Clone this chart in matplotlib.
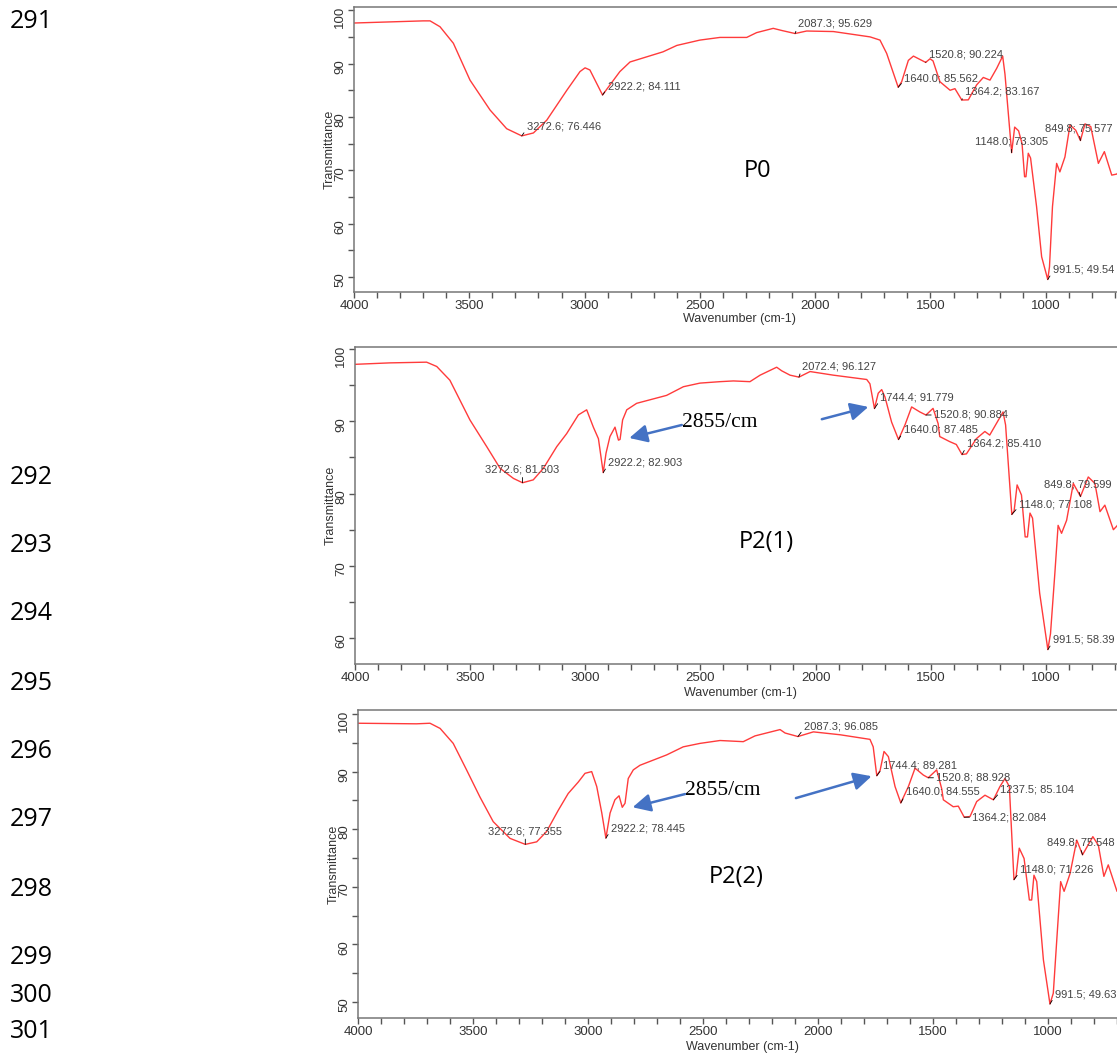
import numpy as np
import matplotlib
matplotlib.use('Agg')
import matplotlib.pyplot as plt
from matplotlib.ticker import MultipleLocator

plt.rcParams['font.family'] = ['Liberation Sans', 'DejaVu Sans']

W, H = 1117, 1055

# ---- spectra (wavenumber cm-1, transmittance %) ----
p0_wn = [4000, 3850, 3700, 3670, 3627, 3569, 3497, 3410, 3338, 3272.6, 3222, 3164, 3077, 3020,
         2998, 2977, 2922.2, 2890, 2847, 2803, 2660, 2600, 2500, 2413, 2297, 2254, 2182, 2145,
         2087.3, 2037, 1921, 1762, 1719, 1690, 1640.0, 1625, 1596, 1574, 1520.8, 1502, 1489,
         1459, 1415, 1394, 1364.2, 1336, 1300, 1271, 1242, 1213, 1187, 1177, 1148.0, 1135,
         1118, 1103, 1092, 1086, 1076, 1066, 1040, 1018, 991.5, 984, 971, 953, 939, 917, 895,
         870, 849.8, 830, 805, 772, 746, 714, 692, 660]
p0_t = [97.6, 97.8, 98.0, 98.0, 96.9, 93.8, 86.9, 81.3, 77.8, 76.45, 77.0, 79.4, 85.0, 88.5,
        89.2, 88.8, 84.11, 86.0, 88.5, 90.3, 92.2, 93.4, 94.4, 94.9, 94.9, 95.8, 96.6, 96.2,
        95.63, 96.1, 96.0, 95.0, 94.4, 91.9, 85.56, 86.6, 90.6, 91.4, 90.22, 90.9, 90.5,
        86.6, 85.0, 85.3, 83.17, 83.2, 86.0, 87.4, 86.9, 89.1, 91.4, 88.0, 73.31, 78.1,
        77.4, 75.0, 68.8, 68.8, 73.2, 72.3, 63.2, 53.8, 49.54, 51.9, 63.2, 71.3, 69.7, 72.5, 78.5,
        77.5, 75.58, 78.7, 78.2, 71.3, 73.5, 69.1, 69.3, 71.0]

p21_wn = [4000, 3850, 3689, 3645, 3588, 3501, 3428, 3370, 3312, 3272.6, 3226, 3182, 3124, 3081,
          3030, 2994, 2965, 2943, 2922.2, 2910, 2893, 2871, 2856, 2849, 2838, 2820, 2777, 2647,
          2574, 2502, 2415, 2357, 2285, 2241, 2169, 2147, 2111, 2072.4, 2024, 1923, 1778, 1764,
          1744.4, 1728, 1713, 1699, 1670, 1640.0, 1612, 1583, 1547, 1520.8, 1490, 1468, 1461,
          1418, 1389, 1364.2, 1345, 1302, 1265, 1244, 1215, 1186, 1175, 1148.0, 1138, 1125,
          1106, 1090, 1080, 1069, 1058, 1027, 991.5, 980, 961, 947, 932, 910, 881, 849.8, 816,
          787, 765, 744, 707, 692, 660]
p21_t = [97.9, 98.1, 98.2, 97.6, 95.7, 90.2, 86.5, 83.5, 82.1, 81.50, 81.9, 83.5, 86.5, 88.3,
         90.9, 91.6, 89.2, 87.6, 82.90, 85.6, 87.9, 89.2, 87.4, 87.5, 90.2, 91.6, 92.5, 93.6,
         94.8, 95.3, 95.5, 95.6, 95.5, 96.4, 97.5, 97.0, 96.4, 96.13, 96.9, 96.4, 95.8, 95.2,
         91.78, 93.9, 94.4, 93.4, 89.9, 87.49, 89.5, 92.0, 91.3, 90.88, 91.8, 89.7, 87.9,
         87.2, 86.8, 85.41, 85.5, 87.6, 88.6, 88.1, 89.7, 91.3, 89.5, 77.11, 77.6, 81.2,
         79.8, 74.0, 74.0, 77.3, 76.6, 66.2, 58.39, 60.6, 69.0, 75.6, 74.5, 76.3, 81.4, 79.60, 82.3,
         81.4, 77.5, 78.4, 75.0, 75.5, 77.0]

p22_wn = [4000, 3746, 3687, 3643, 3586, 3528, 3470, 3412, 3339, 3272.6, 3223, 3180, 3129, 3086,
          3042, 3013, 2984, 2962, 2940, 2922.2, 2904, 2883, 2865, 2851, 2839, 2825, 2803, 2774,
          2658, 2586, 2513, 2426, 2325, 2274, 2165, 2143, 2087.3, 2020, 1904, 1774, 1760,
          1744.4, 1730, 1713, 1694, 1665, 1640.0, 1607, 1578, 1542, 1520.8, 1484, 1462, 1455,
          1412, 1390, 1364.2, 1339, 1310, 1274, 1237.5, 1209, 1187, 1168, 1148.0, 1139, 1125,
          1104, 1081, 1071, 1061, 1049, 1020, 991.5, 977, 960, 945, 930, 904, 875, 849.8, 805,
          781, 757, 738, 700, 660]
p22_t = [98.4, 98.3, 98.4, 97.5, 94.9, 90.3, 85.6, 81.3, 78.4, 77.36, 77.8, 79.6, 83.3, 86.2,
         88.2, 89.7, 90.0, 87.4, 82.8, 78.45, 82.8, 85.1, 85.8, 83.8, 84.5, 88.8, 90.3, 91.1,
         92.9, 94.3, 94.9, 95.4, 95.2, 96.2, 97.3, 96.7, 96.09, 96.9, 96.4, 95.6, 94.3,
         89.28, 90.2, 93.5, 92.6, 87.4, 84.56, 87.4, 90.6, 89.4, 88.93, 90.3, 87.0, 85.1,
         83.9, 84.0, 82.08, 82.2, 84.8, 85.9, 85.10, 87.4, 88.8, 87.4, 71.23, 71.8, 76.7,
         74.9, 67.7, 67.7, 72.0, 70.9, 57.3, 49.63, 51.5, 61.9, 70.9, 69.2, 72.3, 78.1, 75.55, 78.7,
         77.2, 71.8, 73.8, 69.2, 71.0]

# ---- peak labels printed on the chart (values as printed) ----
p0_peak_wn = ['3272.6', '2922.2', '2087.3', '1640.0', '1520.8', '1364.2', '1148.0', '849.8', '991.5']
p0_peak_t = ['76.446', '84.111', '95.629', '85.562', '90.224', '83.167', '73.305', '75.577', '49.54']
p21_peak_wn = ['3272.6', '2922.2', '2072.4', '1744.4', '1640.0', '1520.8', '1364.2', '1148.0', '849.8', '991.5']
p21_peak_t = ['81.503', '82.903', '96.127', '91.779', '87.485', '90.884', '85.410', '77.108', '79.599', '58.39']
p22_peak_wn = ['3272.6', '2922.2', '2087.3', '1744.4', '1640.0', '1520.8', '1237.5', '1364.2', '1148.0',
               '849.8', '991.5']
p22_peak_t = ['77.355', '78.445', '96.085', '89.281', '84.555', '88.928', '85.104', '82.084', '71.226',
              '75.548', '49.63']

line_numbers = ['291', '292', '293', '294', '295', '296', '297', '298', '299', '300', '301']
line_number_y = [22, 477, 546, 614, 683, 751, 820, 889, 958, 995, 1032]

# label offsets in pixels (dx, dy)
p0_off = [(5, 9), (5, 9), (3, 10), (6, 9), (3, 8), (3, 9), (-37, 11), (-35, 12), (5, 10)]
p21_off = [(0, 13), (5, 10), (3, 11), (6, 11), (5, 10), (8, 0), (5, 11), (7, 10), (-36, 12), (5, 10)]
p22_off = [(0, 13), (5, 10), (6, 10), (6, 10), (5, 11), (8, 0), (7, 10), (8, 0), (6, 10), (-36, 12), (5, 10)]


def rect(left, top, right, bottom):
    return [left / W, 1 - bottom / H, (right - left) / W, (bottom - top) / H]


fig = plt.figure(figsize=(W / 100, H / 100), dpi=100)
fig.patch.set_facecolor('white')

panels = [
    (rect(354, 7, 1126.5, 292), (47.2, 100.6), p0_wn, p0_t, p0_peak_wn, p0_peak_t, p0_off),
    (rect(355, 347, 1126.5, 664), (56.4, 100.3), p21_wn, p21_t, p21_peak_wn, p21_peak_t, p21_off),
    (rect(358, 710, 1128.5, 1018), (47.2, 100.7), p22_wn, p22_t, p22_peak_wn, p22_peak_t, p22_off),
]

axes = []
for pos, ylim, wn, t, pk_wn, pk_t, offs in panels:
    ax = fig.add_axes(pos)
    ax.plot(wn, t, color='#ff3b3b', lw=1.0)
    ax.set_xlim(4000, 650)
    ax.set_ylim(*ylim)
    ax.xaxis.set_major_locator(MultipleLocator(500))
    ax.xaxis.set_minor_locator(MultipleLocator(100))
    ax.yaxis.set_major_locator(MultipleLocator(10))
    ax.yaxis.set_minor_locator(MultipleLocator(5))
    ax.tick_params(which='both', direction='out', length=4, width=1, color='#555555',
                   labelsize=9.5, labelcolor='#333333')
    ax.tick_params(axis='x', pad=2)
    ax.tick_params(axis='y', labelrotation=90, pad=1.5)
    for s in ax.spines.values():
        s.set_color('#777777')
        s.set_linewidth(1.1)
    ax.text(-0.032, 0.5, 'Transmittance', rotation=90, ha='center', va='center',
            fontsize=9, color='#333333', transform=ax.transAxes)
    ax.text(0.499, -0.095 if ylim[0] < 50 else -0.09, 'Wavenumber (cm-1)', ha='center', va='center',
            fontsize=9, color='#333333', transform=ax.transAxes)
    for xs, ys, (dx, dy) in zip(pk_wn, pk_t, offs):
        if dy == 0:
            ha, relpos = 'left', (0, 0.5)
        elif dx == 0:
            ha, relpos = 'center', (0.5, 0)
        elif dx < 0:
            ha, relpos = 'left', (0.5, 0)
        else:
            ha, relpos = 'left', (0, 0.3)
        ax.annotate(xs + '; ' + ys, xy=(float(xs), float(ys)), xytext=(dx, dy),
                    textcoords='offset pixels', ha=ha, va='center', fontsize=8.0,
                    color='#444444', annotation_clip=False,
                    arrowprops=dict(arrowstyle='-', color='black', lw=0.6, shrinkA=0, shrinkB=0,
                                    relpos=relpos))
    axes.append(ax)

# blue arrows pointing at the 2855 and 1744 bands
arrow_kw = dict(arrowstyle='-|>,head_length=0.6,head_width=0.3', color='#4472c4', lw=1.8,
                mutation_scale=18, shrinkA=0, shrinkB=0)
ax2, ax3 = axes[1], axes[2]
ax2.annotate('', xy=(2809, 87.7), xytext=(2581, 89.5), arrowprops=arrow_kw)
ax2.annotate('', xy=(1771, 92.0), xytext=(1973, 90.3), arrowprops=arrow_kw)
ax2.text(2581, 89.8, '2855/cm', family='Liberation Serif', fontsize=15.5, ha='left', va='center')
ax3.annotate('', xy=(2806, 83.8), xytext=(2578, 86.1), arrowprops=arrow_kw)
ax3.annotate('', xy=(1767, 89.2), xytext=(2096, 85.4), arrowprops=arrow_kw)
ax3.text(2578, 86.8, '2855/cm', family='Liberation Serif', fontsize=15.5, ha='left', va='center')

# sample names
for name, x, y in [('P0', 758, 171), ('P2(1)', 766, 542), ('P2(2)', 736, 877)]:
    fig.text(x / W, 1 - y / H, name, family='Open Sans', fontsize=17, ha='center', va='center')

# document line numbers
for num, y in zip(line_numbers, line_number_y):
    fig.text(10 / W, 1 - y / H, num, family='Open Sans', fontsize=18, ha='left', va='center')

fig.savefig('out.png', dpi=100, facecolor='white')
